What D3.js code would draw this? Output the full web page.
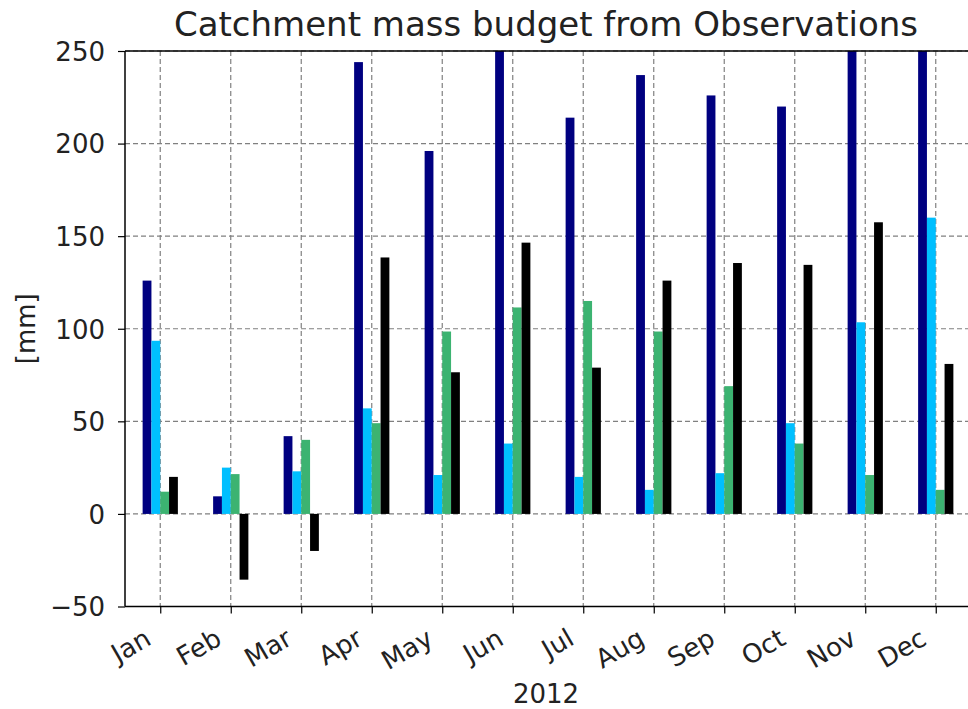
<!DOCTYPE html>
<html>
<head>
<meta charset="utf-8">
<script src="https://cdn.jsdelivr.net/npm/d3@7"></script>
<style>
  html, body { margin: 0; padding: 0; background: #fff; }
  svg { display: block; font-family: "DejaVu Sans", sans-serif; }
</style>
</head>
<body>
<svg id="chart" width="968" height="709"></svg>
<script>
// Monthly catchment mass budget terms, 2012 [mm]
const months = ["Jan", "Feb", "Mar", "Apr", "May", "Jun", "Jul", "Aug", "Sep", "Oct", "Nov", "Dec"];
const precipitation = [126, 9.5, 42, 244, 196, 262, 214, 237, 226, 220, 268, 275];
const runoff        = [93.5, 25, 23, 57, 21, 38, 20, 13, 22, 49, 103.5, 160];
const evaporation   = [12, 21.5, 40, 49, 98.5, 111.5, 115, 98.5, 69, 38, 21, 13];
const storage       = [20, -35.5, -20, 138.5, 76.5, 146.5, 79, 126, 135.5, 134.5, 157.5, 81];
const seriesList = [precipitation, runoff, evaporation, storage];
const seriesColors = ["#000080", "#00bfff", "#3cb371", "#000000"];
const yTicks = [-50, 0, 50, 100, 150, 200, 250];

const svg = d3.select("#chart");
const plotLeft = 125, plotRight = 971, plotTop = 51, plotBottom = 606.5;

// Bar positions 0..11, with half a slot of margin on each side
const x = d3.scaleLinear().domain([-0.5, months.length - 0.5]).range([plotLeft, plotRight]);
const y = d3.scaleLinear().domain([-50, 250]).range([plotBottom, plotTop]);

const groupWidth = 0.5;
const barWidth = groupWidth / seriesList.length;

svg.append("defs").append("clipPath").attr("id", "plotClip")
  .append("rect").attr("x", plotLeft).attr("y", plotTop)
  .attr("width", plotRight - plotLeft).attr("height", plotBottom - plotTop);

// Grid
const grid = svg.append("g").attr("stroke", "#808080").attr("stroke-width", 1.2)
  .attr("stroke-dasharray", "5,3");
grid.selectAll("line.v").data(months).join("line").attr("class", "v")
  .attr("x1", (d, i) => x(i)).attr("x2", (d, i) => x(i))
  .attr("y1", plotTop).attr("y2", plotBottom);
grid.selectAll("line.h").data(yTicks).join("line").attr("class", "h")
  .attr("x1", plotLeft).attr("x2", plotRight)
  .attr("y1", d => y(d)).attr("y2", d => y(d));

// Bars
const bars = svg.append("g").attr("clip-path", "url(#plotClip)");
seriesList.forEach((vals, s) => {
  bars.append("g").attr("fill", seriesColors[s])
    .selectAll("rect").data(vals).join("rect")
    .attr("x", (d, i) => x(i - groupWidth / 2 + s * barWidth))
    .attr("width", x(barWidth) - x(0))
    .attr("y", d => y(Math.max(0, d)))
    .attr("height", d => Math.abs(y(d) - y(0)));
});

// Axes
const yAxis = d3.axisLeft(y).tickValues(yTicks).tickSize(7).tickPadding(13)
  .tickFormat(d => d < 0 ? "\u2212" + Math.abs(d) : d);
const gy = svg.append("g").attr("transform", `translate(${plotLeft},0)`).call(yAxis);
gy.select(".domain").remove();
gy.selectAll(".tick line").attr("stroke", "#000").attr("stroke-width", 1.2);
gy.selectAll(".tick text").attr("font-size", 26).attr("font-family", "DejaVu Sans")
  .attr("fill", "#222").attr("dy", "0.36em");

const xAxis = d3.axisBottom(x).tickValues(d3.range(months.length)).tickSize(7)
  .tickFormat(i => months[i]);
const gx = svg.append("g").attr("transform", `translate(0,${plotBottom})`).call(xAxis);
gx.select(".domain").remove();
gx.selectAll(".tick line").attr("stroke", "#000").attr("stroke-width", 1.2);
gx.selectAll(".tick text")
  .attr("font-size", 26).attr("font-family", "DejaVu Sans").attr("fill", "#222")
  .attr("text-anchor", "end")
  .attr("x", 0).attr("y", 0).attr("dy", 0)
  .attr("transform", "translate(-8,37) rotate(-30)");

// Spines
const spine = (x1, y1, x2, y2) => svg.append("line")
  .attr("x1", x1).attr("y1", y1).attr("x2", x2).attr("y2", y2)
  .attr("stroke", "#000").attr("stroke-width", 1.5);
spine(plotLeft, plotTop, plotLeft, plotBottom);
spine(plotLeft, plotTop, plotRight, plotTop);
spine(plotLeft, plotBottom, plotRight, plotBottom);
spine(plotRight, plotTop, plotRight, plotBottom);

// Labels
svg.append("text").attr("x", 546).attr("y", 36)
  .attr("text-anchor", "middle").attr("font-size", 34).attr("fill", "#222")
  .text("Catchment mass budget from Observations");
svg.append("text").attr("x", 546).attr("y", 703)
  .attr("text-anchor", "middle").attr("font-size", 26).attr("fill", "#222")
  .text("2012");
svg.append("text").attr("transform", `translate(35,${(plotTop + plotBottom) / 2}) rotate(-90)`)
  .attr("text-anchor", "middle").attr("font-size", 26).attr("fill", "#222")
  .text("[mm]");
</script>
</body>
</html>
